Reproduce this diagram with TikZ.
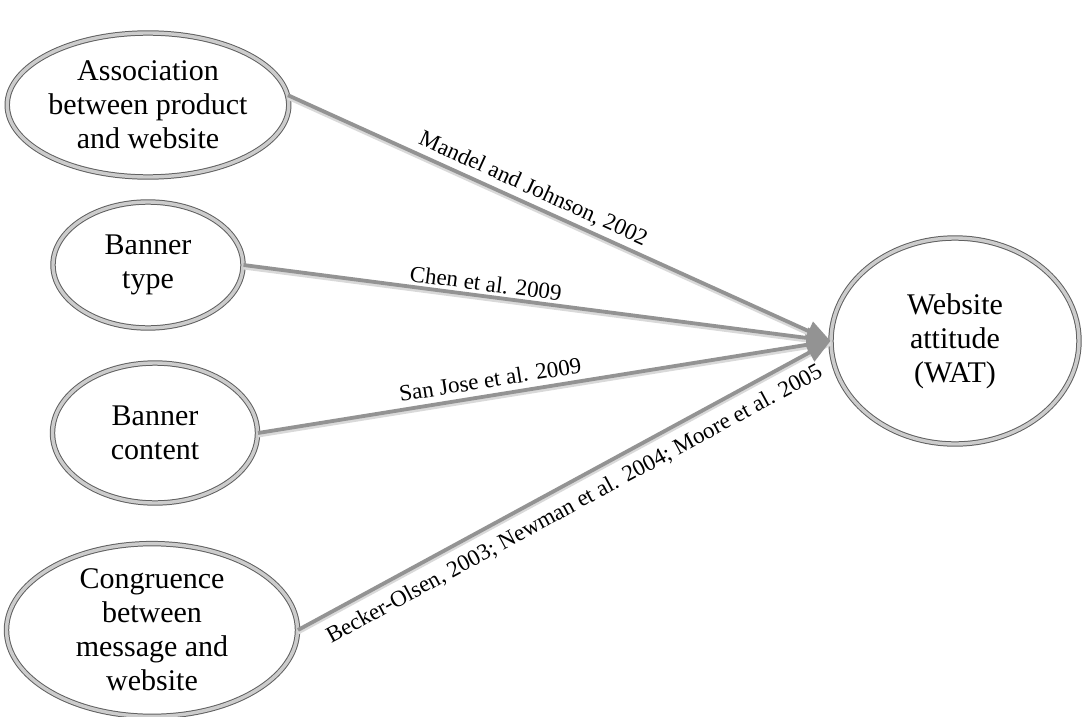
\documentclass[tikz,border=0pt]{standalone}
\usepackage{fontspec}
\setmainfont{Liberation Serif}
\usetikzlibrary{shapes.geometric,arrows.meta}
\tikzset{
  oval/.style={ellipse, draw=gray!75!black, double=gray!40, double distance=3.4pt, line width=1pt,
    fill=white, inner sep=0pt, align=center,
    font=\fontsize{30}{34}\selectfont},
  link/.style={draw=gray!85, line width=3.8pt,
    preaction={draw=gray!30, line width=4pt, arrows=-, transform canvas={yshift=-2.5pt}},
    -{Triangle[length=24pt,width=20pt]}},
  lbl/.style={font=\fontsize{23}{26}\selectfont, sloped, inner sep=3pt}
}
\begin{document}
\begin{tikzpicture}[x=1pt,y=-1pt]
\useasboundingbox (0,0) rectangle (1082,717);
\node[oval, minimum width=279, minimum height=144] (a) at (148,105) {Association\\between product\\and website};
\node[oval, minimum width=190, minimum height=126] (b) at (148,265) {Banner\\type};
\node[oval, minimum width=205, minimum height=140] (c) at (155,433) {Banner\\content};
\node[oval, minimum width=291, minimum height=170] (d) at (152,630) {Congruence\\between\\message and\\website};
\node[oval, minimum width=248, minimum height=206] (w) at (955,341) {Website\\attitude\\(WAT)};
\draw[link] (a.4) -- (w.west) node[lbl, above=1pt, pos=0.44] {Mandel and Johnson, 2002};
\draw[link] (b.east) -- (w.west) node[lbl, above, pos=0.41] {Chen et al. 2009};
\draw[link] (c.east) -- (w.west) node[lbl, above=3pt, pos=0.41] {San Jose et al. 2009};
\draw[link] (d.east) -- (w.west) node[lbl, below=7pt, pos=0.5] {Becker-Olsen, 2003; Newman et al. 2004; Moore et al. 2005};
\end{tikzpicture}
\end{document}
